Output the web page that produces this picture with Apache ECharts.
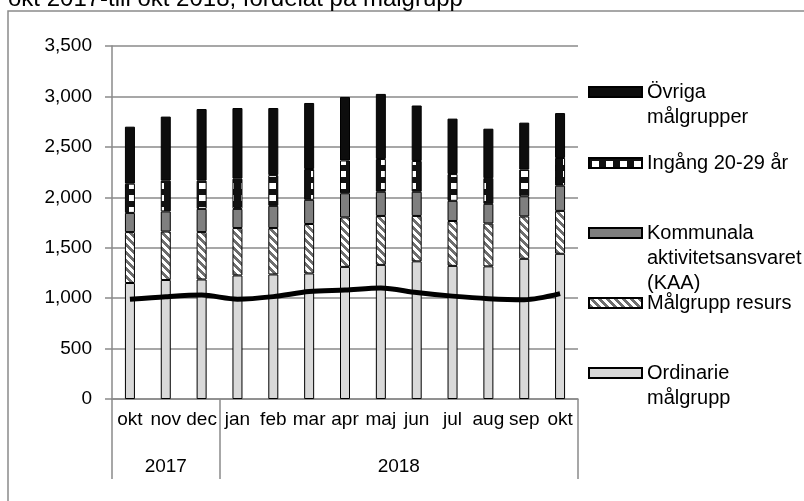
<!DOCTYPE html>
<html>
<head>
<meta charset="utf-8">
<script src="https://cdn.jsdelivr.net/npm/echarts@6/dist/echarts.min.js"></script>
<style>
  html, body { margin: 0; padding: 0; background: #fff; }
  #chart { width: 804px; height: 501px; }
</style>
</head>
<body>
<div id="chart"></div>
<script>
// data
var months = ['okt', 'nov', 'dec', 'jan', 'feb', 'mar', 'apr', 'maj', 'jun', 'jul', 'aug', 'sep', 'okt'];
var years = ['2017', '2018'];
var yearCounts = [3, 10];
var yTicks = [0, 500, 1000, 1500, 2000, 2500, 3000, 3500];

var ordinarie = [1150, 1180, 1185, 1225, 1235, 1245, 1310, 1330, 1365, 1320, 1315, 1390, 1440];
var resurs    = [505, 480, 470, 470, 460, 490, 490, 485, 450, 445, 425, 420, 425];
var kaa       = [190, 200, 230, 190, 220, 240, 240, 240, 240, 200, 195, 200, 250];
var ingang    = [290, 305, 280, 300, 305, 305, 325, 325, 305, 265, 255, 265, 275];
var ovriga    = [565, 635, 710, 700, 665, 655, 630, 645, 550, 550, 490, 465, 445];
var lineVals  = [990, 1015, 1030, 990, 1015, 1065, 1080, 1100, 1055, 1020, 995, 985, 1045];

var FONT = 'Liberation Sans';
var GRAY = '#8a8a8a';

function stripePattern() {
    var c = document.createElement('canvas');
    c.width = 8; c.height = 8;
    var ctx = c.getContext('2d');
    ctx.fillStyle = '#ffffff';
    ctx.fillRect(0, 0, 8, 8);
    ctx.fillStyle = '#6e6e6e';
    for (var x = 0; x < 8; x++) {
        for (var y = 0; y < 8; y++) {
            if ((x - y + 64) % 8 < 4) ctx.fillRect(x, y, 1, 1);
        }
    }
    return { image: c, repeat: 'repeat' };
}

function blockPattern() {
    var c = document.createElement('canvas');
    c.width = 14; c.height = 12;
    var ctx = c.getContext('2d');
    ctx.fillStyle = '#111111';
    ctx.fillRect(0, 0, 14, 12);
    ctx.fillStyle = '#ffffff';
    ctx.fillRect(3, 3, 7, 6);
    return { image: c, repeat: 'repeat' };
}

// centers of the year groups and the separators between them
var yearCenters = [], yearEdges = [0], acc = 0;
yearCounts.forEach(function (n) {
    yearCenters.push(acc + n / 2);
    acc += n;
    yearEdges.push(acc);
});

function barSeries(name, data, color) {
    return {
        name: name,
        type: 'bar',
        stack: 'total',
        data: data,
        barWidth: 10,
        itemStyle: { color: color, borderColor: '#000', borderWidth: 1 },
        emphasis: { disabled: true }
    };
}

function legendAt(name, label, lines, center) {
    return {
        data: [name],
        left: 588,
        top: center - lines * 25 / 2,
        padding: 0,
        itemWidth: 53,
        itemHeight: 10,
        itemGap: 5,
        icon: 'rect',
        selectedMode: false,
        formatter: function () { return label; },
        textStyle: { fontFamily: FONT, fontSize: 20, color: '#000', lineHeight: 25 }
    };
}

var dom = document.getElementById('chart');
var myChart = echarts.init(dom, null, { renderer: 'canvas' });

var option = {
    animation: false,
    title: {
        text: 'okt 2017-till okt 2018, fördelat på målgrupp',
        left: 8,
        top: -13,
        padding: 0,
        textStyle: { fontFamily: FONT, fontSize: 24, fontWeight: 'normal', color: '#000' }
    },
    graphic: [{
        type: 'rect',
        shape: { x: 8, y: 11, width: 900, height: 600 },
        style: { fill: 'none', stroke: GRAY, lineWidth: 1.5 },
        silent: true,
        z: -1
    }],
    legend: [
        legendAt('Övriga målgrupper', '\nÖvriga\nmålgrupper', 3, 92),
        legendAt('Ingång 20-29 år', 'Ingång 20-29 år', 1, 163),
        legendAt('Kommunala aktivitetsansvaret (KAA)', '\n\nKommunala\naktivitetsansvaret\n(KAA)', 5, 233),
        legendAt('Målgrupp resurs', 'Målgrupp resurs', 1, 303),
        legendAt('Ordinarie målgrupp', '\nOrdinarie\nmålgrupp', 3, 373)
    ],
    grid: { left: 112, right: 226, top: 46, bottom: 102, containLabel: false },
    xAxis: [{
        type: 'category',
        data: months,
        position: 'bottom',
        axisLine: { lineStyle: { color: GRAY, width: 1.5 } },
        axisTick: { show: false },
        axisLabel: { interval: 0, margin: 11, fontFamily: FONT, fontSize: 19, color: '#000' }
    }, {
        type: 'value',
        min: 0,
        max: months.length,
        position: 'bottom',
        axisLine: { show: false },
        splitLine: { show: false },
        axisTick: {
            show: true,
            customValues: yearEdges,
            length: 80,
            lineStyle: { color: GRAY, width: 1.5 }
        },
        axisLabel: {
            customValues: yearCenters,
            margin: 58,
            fontFamily: FONT, fontSize: 19, color: '#000',
            formatter: function (v) {
                var i = yearCenters.indexOf(v);
                return i >= 0 ? years[i] : '';
            }
        }
    }],
    yAxis: {
        type: 'value',
        min: yTicks[0],
        max: yTicks[yTicks.length - 1],
        interval: 500,
        axisLine: { show: true, lineStyle: { color: GRAY, width: 1.5 } },
        axisTick: { show: true, length: 7, lineStyle: { color: GRAY, width: 1.5 } },
        splitLine: { lineStyle: { color: GRAY, width: 1.5 } },
        axisLabel: { margin: 20, fontFamily: FONT, fontSize: 19, color: '#000' }
    },
    series: [
        barSeries('Ordinarie målgrupp', ordinarie, '#d9d9d9'),
        barSeries('Målgrupp resurs', resurs, stripePattern()),
        barSeries('Kommunala aktivitetsansvaret (KAA)', kaa, '#7f7f7f'),
        barSeries('Ingång 20-29 år', ingang, blockPattern()),
        barSeries('Övriga målgrupper', ovriga, '#0d0d0d'),
        {
            name: 'Totalt',
            type: 'line',
            data: lineVals,
            smooth: 0.3,
            symbol: 'none',
            z: 5,
            lineStyle: { color: '#000', width: 5 },
            emphasis: { disabled: true }
        }
    ]
};

if (option && typeof option === "object") {
    myChart.setOption(option, true);
}
window.onresize = function () {
    myChart.resize();
};
</script>
</body>
</html>
